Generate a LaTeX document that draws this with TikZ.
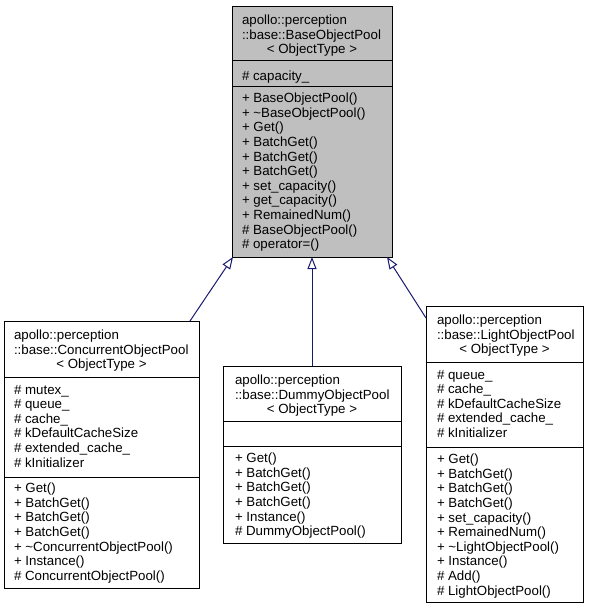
\documentclass[tikz,border=0pt]{standalone}
\usepackage{fontspec}
\setmainfont{Liberation Sans}
\usetikzlibrary{arrows.meta}
\definecolor{edgeblue}{HTML}{191970}
\definecolor{grey75}{HTML}{BFBFBF}
\tikzset{
  cls/.style={draw=black, line width=0.9pt, anchor=north west, inner sep=0pt, outer sep=0pt},
  divl/.style={draw=black, line width=0.9pt},
  txt/.style={anchor=north west, inner sep=0pt, outer sep=0pt, align=left,
              font=\fontsize{13.3}{14.6}\selectfont},
  ctxt/.style={anchor=north, inner sep=0pt, outer sep=0pt,
              font=\fontsize{13.3}{14.6}\selectfont},
  inh/.style={draw=edgeblue, line width=1pt,
              -{Triangle[length=12pt,width=9pt,fill=white,line width=1pt]}}
}
\begin{document}
\begin{tikzpicture}[x=1pt,y=-1pt]
\fill[white] (0,0) rectangle (589,609);
\useasboundingbox (0,0) rectangle (589,609);

% ---------- BaseObjectPool ----------
\node[cls, fill=grey75, minimum width=160pt, minimum height=251pt] (base) at (232,6) {};
\draw[divl] (232,60) -- (392,60);
\draw[divl] (232,86) -- (392,86);
\node[txt] (bh) at (242,15) {apollo::perception\\::base::BaseObjectPool};
\node[ctxt] (bt) at (312,44.2) {< ObjectType >};
\node[txt] (ba) at (242,71) {\# capacity\_};
\node[txt] (bm) at (242,93) {+ BaseObjectPool()\\+ \textasciitilde BaseObjectPool()\\+ Get()\\+ BatchGet()\\+ BatchGet()\\+ BatchGet()\\+ set\_capacity()\\+ get\_capacity()\\+ RemainedNum()\\\# BaseObjectPool()\\\# operator=()};

% ---------- ConcurrentObjectPool ----------
\node[cls, fill=white, minimum width=195pt, minimum height=267pt] (conc) at (4,321) {};
\draw[divl] (4,377) -- (199,377);
\draw[divl] (4,477) -- (199,477);
\node[txt] (ch) at (14,330) {apollo::perception\\::base::ConcurrentObjectPool};
\node[ctxt] (ct) at (101.5,359.2) {< ObjectType >};
\node[txt] (ca) at (14,385) {\# mutex\_\\\# queue\_\\\# cache\_\\\# kDefaultCacheSize\\\# extended\_cache\_\\\# kInitializer};
\node[txt] (cm) at (14,483) {+ Get()\\+ BatchGet()\\+ BatchGet()\\+ BatchGet()\\+ \textasciitilde ConcurrentObjectPool()\\+ Instance()\\\# ConcurrentObjectPool()};

% ---------- DummyObjectPool ----------
\node[cls, fill=white, minimum width=178pt, minimum height=177pt] (dummy) at (223,366) {};
\draw[divl] (223,421) -- (401,421);
\draw[divl] (223,446) -- (401,446);
\node[txt] (dh) at (235,375) {apollo::perception\\::base::DummyObjectPool};
\node[ctxt] (dt) at (312,404.2) {< ObjectType >};
\node[txt] (dm) at (235,453) {+ Get()\\+ BatchGet()\\+ BatchGet()\\+ BatchGet()\\+ Instance()\\\# DummyObjectPool()};

% ---------- LightObjectPool ----------
\node[cls, fill=white, minimum width=157pt, minimum height=296pt] (light) at (426,306) {};
\draw[divl] (426,362) -- (583,362);
\draw[divl] (426,447) -- (583,447);
\node[txt] (lh) at (437,315) {apollo::perception\\::base::LightObjectPool};
\node[ctxt] (lt) at (504.5,344.2) {< ObjectType >};
\node[txt] (la) at (437,370) {\# queue\_\\\# cache\_\\\# kDefaultCacheSize\\\# extended\_cache\_\\\# kInitializer};
\node[txt] (lm) at (437,454) {+ Get()\\+ BatchGet()\\+ BatchGet()\\+ BatchGet()\\+ set\_capacity()\\+ RemainedNum()\\+ \textasciitilde LightObjectPool()\\+ Instance()\\\# Add()\\\# LightObjectPool()};

% ---------- inheritance ----------
\draw[inh] ([xshift=-9pt]conc.north east) -- ([xshift=1pt]base.south west);
\draw[inh] (dummy.north) -- (base.south);
\draw[inh] ([yshift=-12pt]light.north west) -- ([xshift=-5pt]base.south east);
\end{tikzpicture}
\end{document}
